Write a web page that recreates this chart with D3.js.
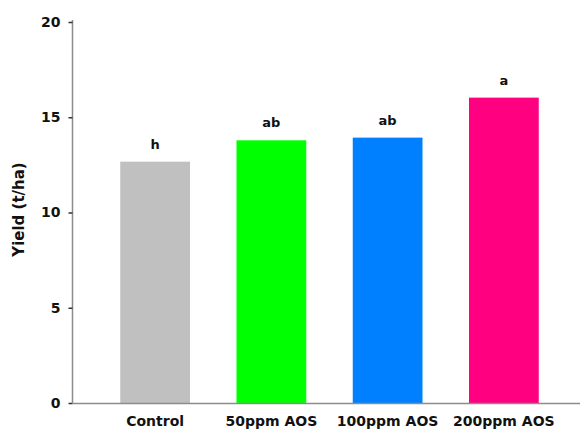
<!DOCTYPE html>
<html>
<head>
<meta charset="utf-8">
<script src="https://cdn.jsdelivr.net/npm/d3@7"></script>
<style>
  html, body { margin: 0; padding: 0; background: #fff; }
  svg { display: block; }
  text { font-family: "DejaVu Sans", sans-serif; font-weight: bold; fill: #111; }
</style>
</head>
<body>
<svg id="chart" width="582" height="429"></svg>
<script>
// Treatments and mean yield (t/ha)
const treatments = ["Control", "50ppm AOS", "100ppm AOS", "200ppm AOS"];
const yieldValues = [12.67, 13.79, 13.93, 16.03];
const groupLetters = ["h", "ab", "ab", "a"];
const barColors = ["#c0c0c0", "#00ff00", "#0080ff", "#ff0080"];
const yTicks = [0, 5, 10, 15, 20];

const svg = d3.select("#chart");
const axisColor = "#8c8c8c";

const x = d3.scaleBand()
  .domain(treatments)
  .range([97, 562])
  .paddingInner(0.4)
  .paddingOuter(0.2);

const y = d3.scaleLinear()
  .domain([0, 20])
  .range([403, 22]);

// Bars
svg.append("g")
  .selectAll("rect")
  .data(treatments)
  .join("rect")
  .attr("x", d => x(d))
  .attr("y", (d, i) => y(yieldValues[i]))
  .attr("width", x.bandwidth())
  .attr("height", (d, i) => y(0) - y(yieldValues[i]))
  .attr("fill", (d, i) => barColors[i]);

// Significance letters above bars
svg.append("g")
  .selectAll("text")
  .data(treatments)
  .join("text")
  .attr("x", d => x(d) + x.bandwidth() / 2)
  .attr("y", (d, i) => y(yieldValues[i]) - 13)
  .attr("text-anchor", "middle")
  .attr("font-size", 13)
  .text((d, i) => groupLetters[i]);

// Y axis
const yAxis = svg.append("g")
  .attr("transform", "translate(72.5,0)")
  .call(d3.axisLeft(y).tickValues(yTicks).tickSize(4).tickPadding(8));
yAxis.select(".domain").attr("stroke", axisColor).attr("stroke-width", 1.5)
  .attr("d", `M0,${y(20) - 2}V${y(0)}`);
yAxis.selectAll(".tick line").attr("stroke", "#333").attr("stroke-width", 1.5);
yAxis.selectAll(".tick text")
  .attr("font-size", 14)
  .attr("font-family", "DejaVu Sans, sans-serif")
  .attr("font-weight", "bold")
  .attr("fill", "#111");

// X axis
const xAxis = svg.append("g")
  .attr("transform", `translate(0,${y(0) + 0.5})`)
  .call(d3.axisBottom(x).tickSize(0).tickPadding(13));
xAxis.select(".domain").attr("stroke", axisColor).attr("stroke-width", 1.5)
  .attr("d", "M72,0H580");
xAxis.selectAll(".tick text")
  .attr("font-size", 14)
  .attr("font-family", "DejaVu Sans, sans-serif")
  .attr("font-weight", "bold")
  .attr("fill", "#111");

// Y axis title
svg.append("text")
  .attr("transform", `translate(24,${(y(0) + y(20)) / 2 - 3}) rotate(-90)`)
  .attr("text-anchor", "middle")
  .attr("font-size", 15)
  .text("Yield (t/ha)");
</script>
</body>
</html>
